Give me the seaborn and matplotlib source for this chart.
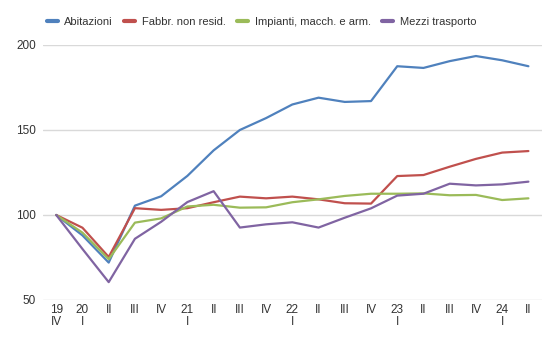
import matplotlib
matplotlib.use("Agg")
import matplotlib.pyplot as plt
import seaborn as sns
import pandas as pd

quarters = ["19\nIV", "20\nI", "II", "III", "IV", "21\nI", "II", "III", "IV",
            "22\nI", "II", "III", "IV", "23\nI", "II", "III", "IV", "24\nI", "II"]

abitazioni = [100, 88, 72, 105.5, 111, 123, 138, 150, 157, 165, 169, 166.5, 167,
              187.5, 186.5, 190.5, 193.5, 191, 187.5]
fabbr_non_resid = [100, 92.5, 75.3, 104, 103, 104, 107.5, 110.8, 109.8, 110.8, 109.2,
                   106.9, 106.7, 122.9, 123.5, 128.4, 133, 136.7, 137.6]
impianti = [100, 89.6, 74, 95.5, 98, 105, 106, 104.3, 104.5, 107.5, 109.2, 111.2,
            112.5, 112.5, 112.7, 111.6, 111.8, 108.8, 109.8]
mezzi_trasporto = [100, 80, 60.5, 86, 96, 107.6, 114, 92.6, 94.5, 95.7, 92.6, 98.4,
                   103.9, 111.4, 112.5, 118.4, 117.4, 118, 119.6]

series = {
    "Abitazioni": abitazioni,
    "Fabbr. non resid.": fabbr_non_resid,
    "Impianti, macch. e arm.": impianti,
    "Mezzi trasporto": mezzi_trasporto,
}
colors = ["#4F81BD", "#C0504D", "#9BBB59", "#8064A2"]

rows = []
for name, vals in series.items():
    for i, v in enumerate(vals):
        rows.append({"t": i, "serie": name, "valore": v})
df = pd.DataFrame(rows)

sns.set_style("white")
plt.rcParams["font.family"] = ["Liberation Sans", "DejaVu Sans"]

fig = plt.figure(figsize=(5.6, 3.46), dpi=100)
ax = fig.add_axes([0.077, 0.133, 0.89, 0.737])

sns.lineplot(data=df, x="t", y="valore", hue="serie", palette=colors,
             linewidth=1.6, ax=ax, legend=True)

ax.set_xlim(-0.5, 18.5)
ax.set_ylim(50, 200)
ax.set_yticks([50, 100, 150, 200])
ax.set_xticks(range(len(quarters)))
ax.set_xticklabels(quarters, fontsize=8.5, color="#333333", linespacing=1.0)
ax.tick_params(axis="y", labelsize=8.5, colors="#333333", length=0, pad=5)
ax.tick_params(axis="x", length=0, pad=3)
ax.set_xlabel("")
ax.set_ylabel("")
ax.grid(axis="y", color="#D9D9D9", linewidth=1)
ax.set_axisbelow(True)
for s in ax.spines.values():
    s.set_visible(False)

handles, labels = ax.get_legend_handles_labels()
for h in handles:
    h.set_linewidth(3)
ax.legend(handles, labels, loc="center", bbox_to_anchor=(0.438, 1.09),
          ncol=4, frameon=False, fontsize=8, handlelength=1.0,
          handletextpad=0.6, columnspacing=1.0, labelcolor="#333333")

fig.savefig("out.png", dpi=100)
